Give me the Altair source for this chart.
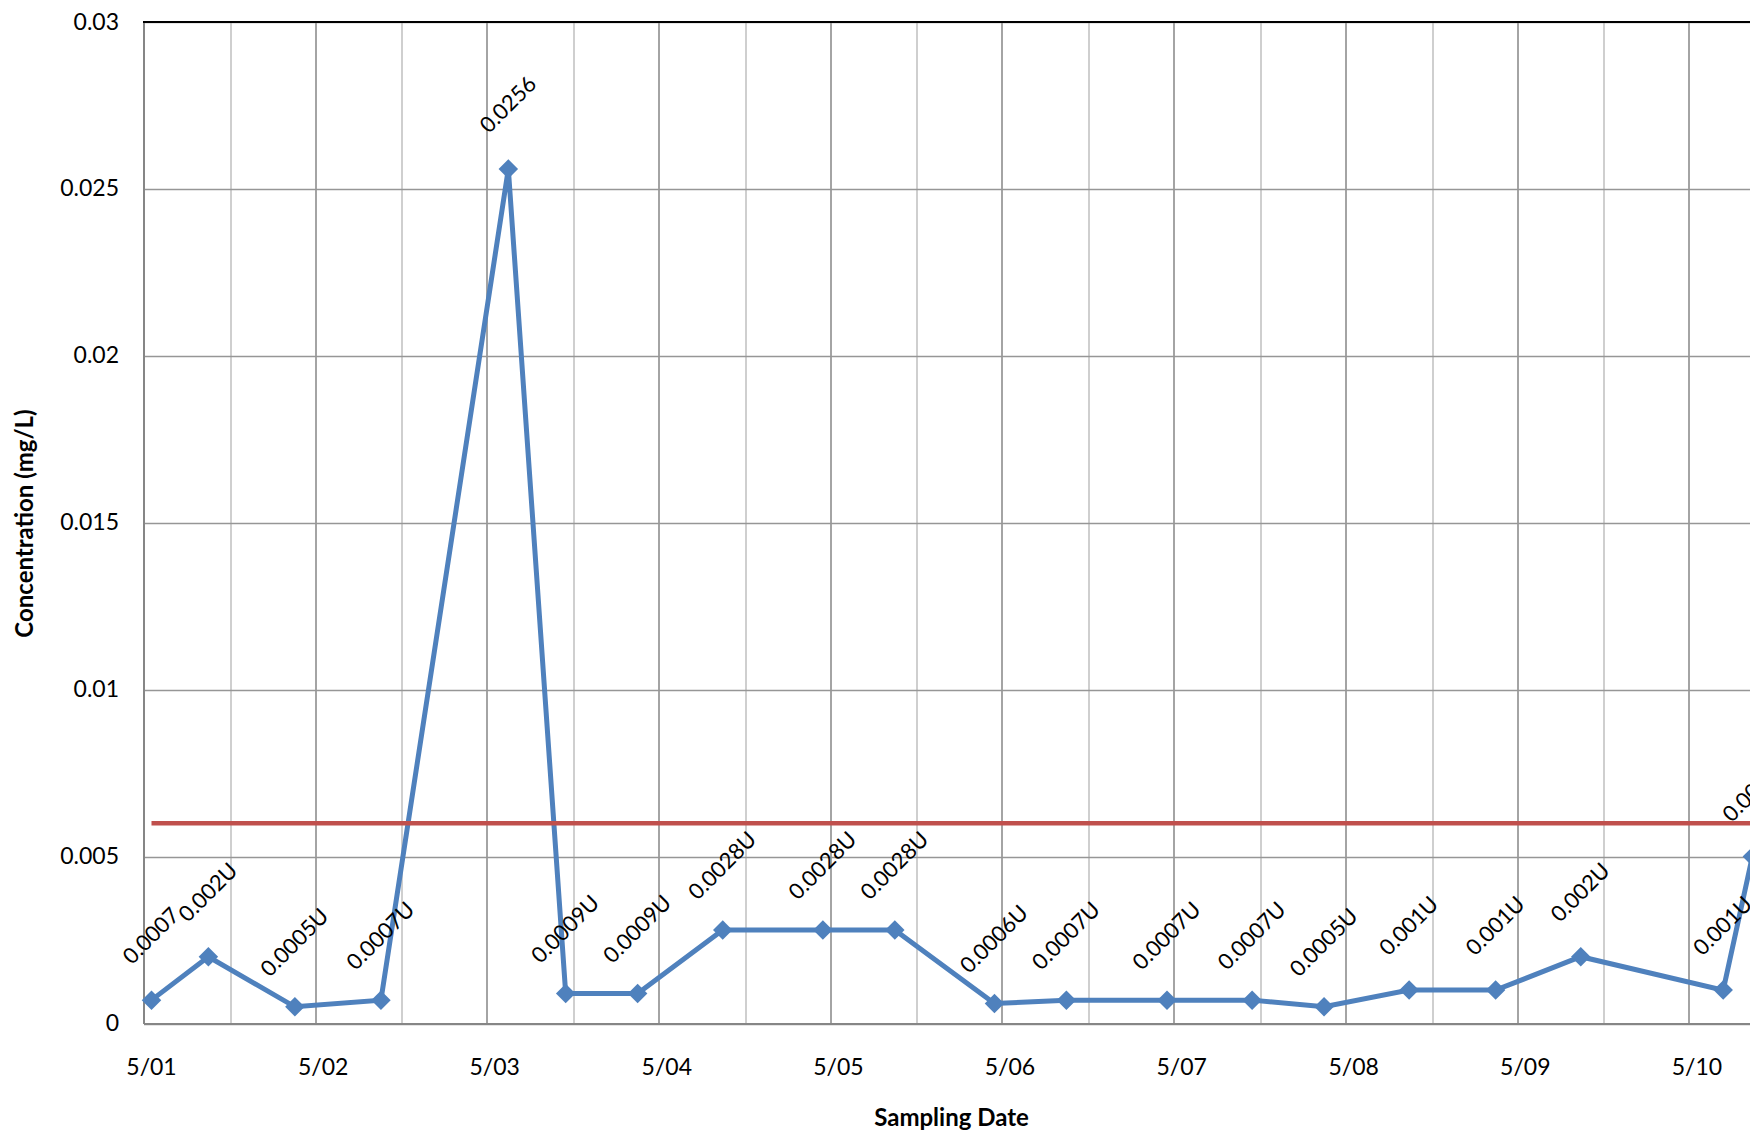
import altair as alt
import pandas as pd

# ---- data ----
sample_dates = [
    "2001-05-18", "2001-09-16", "2002-03-19", "2002-09-18", "2003-06-16",
    "2003-10-16", "2004-03-17", "2004-09-14", "2005-04-15", "2005-09-15",
    "2006-04-15", "2006-09-15", "2007-04-17", "2007-10-15", "2008-03-16",
    "2008-09-13", "2009-03-16", "2009-09-13", "2010-07-13", "2010-09-13",
]
concentrations = [
    0.0007, 0.002, 0.0005, 0.0007, 0.0256,
    0.0009, 0.0009, 0.0028, 0.0028, 0.0028,
    0.0006, 0.0007, 0.0007, 0.0007, 0.0005,
    0.001, 0.001, 0.002, 0.001, 0.005,
]
point_labels = [
    "0.0007", "0.002U", "0.0005U", "0.0007U", "0.0256",
    "0.0009U", "0.0009U", "0.0028U", "0.0028U", "0.0028U",
    "0.0006U", "0.0007U", "0.0007U", "0.0007U", "0.0005U",
    "0.001U", "0.001U", "0.002U", "0.001U", "0.005U",
]
limit_value = 0.006
y_ticks = [0, 0.005, 0.01, 0.015, 0.02, 0.025, 0.03]
tick_years = list(range(2001, 2011))

BLUE = "#4F81BD"
RED = "#C0504D"
FONT = "Lato"

W = 1606.5
H = 1001.5

df = pd.DataFrame({
    "date": [d + "T00:00:00" for d in sample_dates],
    "value": concentrations,
    "label": point_labels,
})
limit_df = pd.DataFrame({
    "start": [sample_dates[0] + "T00:00:00"],
    "end": [sample_dates[-1] + "T00:00:00"],
    "limit": [limit_value],
})

x_values = []
for yr in tick_years:
    x_values.append(alt.DateTime(year=yr, month=5, date=1))
    if yr < 2010:
        x_values.append(alt.DateTime(year=yr, month=11, date=1))

x_scale = alt.Scale(domain=[alt.DateTime(year=2001, month=5, date=1),
                            alt.DateTime(year=2010, month=9, date=8)], nice=False)
y_scale = alt.Scale(domain=[0, 0.03], nice=False, zero=True)

x_axis = alt.Axis(
    values=x_values,
    labelExpr="month(datum.value) == 4 ? timeFormat(datum.value, '%-m/%y') : ''",
    gridColor={"condition": {"test": "month(datum.value) == 4", "value": "#868686"},
               "value": "#BFBFBF"},
    gridWidth=1.5,
    ticks=False, tickSize=0,
    labelPadding=33, labelOffset=7.5, labelAngle=0,
    labelFont=FONT, labelFontSize=23, labelColor="black",
    labelOverlap=False, labelFlush=False, labelBound=False,
    domainColor="#868686", domainWidth=2,
    title="Sampling Date", titleFont=FONT, titleFontSize=24, titleFontWeight="bold",
    titleColor="black", titleX=807.5, titleY=95, titleAlign="center",
    titleBaseline="middle", titleAnchor="start",
)
y_axis = alt.Axis(
    values=y_ticks, format="~g",
    gridColor="#969696", gridWidth=1.5,
    ticks=False, tickSize=0,
    labelPadding=25, labelFont=FONT, labelFontSize=23, labelColor="black",
    labelOverlap=False, labelFlush=False, labelBound=False,
    domainColor="#868686", domainWidth=2,
    title="Concentration (mg/L)", titleFont=FONT, titleFontSize=24,
    titleFontWeight="bold", titleColor="black",
    titleX=-118.5, titleY=501, titleAngle=270, titleAlign="center",
    titleBaseline="middle", titleAnchor="start",
)

X = alt.X("date:T", scale=x_scale, axis=x_axis, title="Sampling Date")
Y = alt.Y("value:Q", scale=y_scale, axis=y_axis, title="Concentration (mg/L)")

base = alt.Chart(df)

line = base.mark_line(color=BLUE, strokeWidth=5, clip=False).encode(x=X, y=Y)
points = base.mark_point(shape="diamond", filled=True, size=380, color=BLUE,
                         opacity=1, clip=False).encode(x=X, y=Y)

limit_line = alt.Chart(limit_df).mark_rule(color=RED, strokeWidth=4.5, clip=False).encode(
    x=alt.X("start:T", scale=x_scale, axis=x_axis, title="Sampling Date"),
    x2="end:T",
    y=alt.Y("limit:Q", scale=y_scale, axis=y_axis, title="Concentration (mg/L)"),
)

top_border = alt.Chart(df).mark_rule(color="black", strokeWidth=2).encode(
    x=alt.value(0), x2=alt.value(W), y=alt.value(0)
)

labels = base.mark_text(angle=315, radius=64, align="center", baseline="middle",
                        font=FONT, fontSize=22, color="black", clip=False).encode(
    x=X, y=Y, text="label:N"
)

chart = alt.layer(line, points, limit_line, top_border, labels).properties(
    width=W, height=H,
    padding={"left": 135.5, "top": 14, "right": 0, "bottom": 110},
    autosize=alt.AutoSizeParams(type="none"),
    background="white",
).configure_view(stroke=None)

chart.save("out.html", embed_options={"renderer": "svg", "actions": False})
